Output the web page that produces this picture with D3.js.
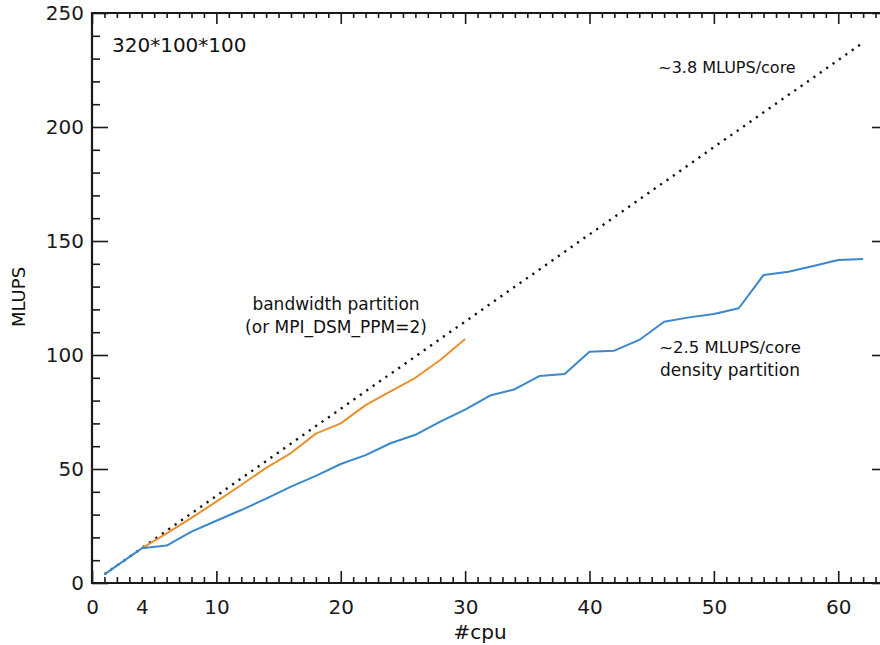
<!DOCTYPE html>
<html>
<head>
<meta charset="utf-8">
<script src="https://cdn.jsdelivr.net/npm/d3@7"></script>
<style>
  html, body { margin: 0; padding: 0; background: #fff; }
  svg { display: block; font-family: "DejaVu Sans", sans-serif; }
</style>
</head>
<body>
<svg id="chart" width="880" height="645"></svg>
<script>
// ---- data ----
const densityX = [1, 2, 4, 6, 8, 10, 12, 14, 16, 18, 20, 22, 24, 26, 28, 30, 32, 34, 36, 38, 40, 42, 44, 46, 48, 50, 52, 54, 56, 58, 60, 62];
const densityY = [3.8, 7.6, 15.2, 16.4, 22.5, 27.3, 32.0, 37.0, 42.3, 47.0, 52.2, 56.1, 61.3, 65.0, 70.8, 76.0, 82.2, 85.0, 90.8, 91.7, 101.4, 101.9, 106.6, 114.6, 116.5, 118.0, 120.5, 135.1, 136.5, 139.0, 141.7, 142.1];
const bandwidthX = [4, 6, 8, 10, 12, 14, 16, 18, 20, 22, 24, 26, 28, 30];
const bandwidthY = [15.2, 21.8, 28.6, 35.7, 43.0, 50.5, 57.0, 65.5, 70.0, 78.0, 84.0, 90.0, 97.8, 107.0];
const idealX = [1, 62];
const idealY = [3.8, 237];
const xTickLabels = [0, 4, 10, 20, 30, 40, 50, 60];
const xMajorTicks = [0, 10, 20, 30, 40, 50, 60];
const yTickLabels = [0, 50, 100, 150, 200, 250];
const xDomain = [0, 64];
const yDomain = [0, 250];

(function () {
// ---- layout ----
const svg = d3.select("#chart");
const mLeft = 92, mRight = 888, mTop = 13, mBottom = 583;
const x = d3.scaleLinear().domain(xDomain).range([mLeft, mRight]);
const y = d3.scaleLinear().domain(yDomain).range([mBottom, mTop]);
const axisColor = "#1a1a1a";

svg.append("rect").attr("width", 880).attr("height", 645).attr("fill", "#fff");

const xMinor = d3.range(xDomain[0], xDomain[1] + 1, 1).filter(v => !xMajorTicks.includes(v));
const yMinor = d3.range(0, 251, 10).filter(v => v % 50 !== 0);

function styleAxis(g) {
  g.select(".domain").remove();
  g.selectAll("line").attr("stroke", axisColor).attr("stroke-width", 1.6);
  g.selectAll("text").attr("fill", axisColor);
}

// bottom axis ticks (inward)
svg.append("g").attr("transform", `translate(0,${mBottom})`)
  .call(d3.axisTop(x).tickValues(xMajorTicks).tickSize(12).tickFormat("")).call(styleAxis);
svg.append("g").attr("transform", `translate(0,${mBottom})`)
  .call(d3.axisTop(x).tickValues(xMinor).tickSize(6).tickFormat("")).call(styleAxis);
// bottom labels
svg.append("g").attr("transform", `translate(0,${mBottom})`)
  .call(d3.axisBottom(x).tickValues(xTickLabels).tickSize(0).tickPadding(17).tickFormat(d3.format("d")))
  .call(styleAxis)
  .selectAll("text").attr("font-size", 20).attr("font-family", "DejaVu Sans, sans-serif");

// top axis ticks (inward)
svg.append("g").attr("transform", `translate(0,${mTop})`)
  .call(d3.axisBottom(x).tickValues(xMajorTicks).tickSize(11).tickFormat("")).call(styleAxis);
svg.append("g").attr("transform", `translate(0,${mTop})`)
  .call(d3.axisBottom(x).tickValues(xMinor).tickSize(5).tickFormat("")).call(styleAxis);

// left axis
svg.append("g").attr("transform", `translate(${mLeft},0)`)
  .call(d3.axisRight(y).tickValues(yTickLabels).tickSize(16).tickFormat("")).call(styleAxis);
svg.append("g").attr("transform", `translate(${mLeft},0)`)
  .call(d3.axisRight(y).tickValues(yMinor).tickSize(8).tickFormat("")).call(styleAxis);
svg.append("g").attr("transform", `translate(${mLeft},0)`)
  .call(d3.axisLeft(y).tickValues(yTickLabels).tickSize(0).tickPadding(8).tickFormat(d3.format("d")))
  .call(styleAxis)
  .selectAll("text").attr("font-size", 20).attr("font-family", "DejaVu Sans, sans-serif");

// right axis
svg.append("g").attr("transform", `translate(${mRight},0)`)
  .call(d3.axisLeft(y).tickValues(yTickLabels).tickSize(16).tickFormat("")).call(styleAxis);
svg.append("g").attr("transform", `translate(${mRight},0)`)
  .call(d3.axisLeft(y).tickValues(yMinor).tickSize(8).tickFormat("")).call(styleAxis);

// frame
svg.append("path")
  .attr("d", `M${mLeft},${mTop}V${mBottom}H${mRight}V${mTop}Z`)
  .attr("fill", "none").attr("stroke", axisColor).attr("stroke-width", 2.2);

// lines
const line = d3.line().x(d => x(d[0])).y(d => y(d[1]));
svg.append("path")
  .datum(d3.zip(idealX, idealY))
  .attr("d", line).attr("fill", "none")
  .attr("stroke", "#111").attr("stroke-width", 2.4)
  .attr("stroke-dasharray", "2.2 5.6");
svg.append("path")
  .datum(d3.zip(bandwidthX, bandwidthY))
  .attr("d", line).attr("fill", "none")
  .attr("stroke", "#e8912d").attr("stroke-width", 2).attr("stroke-linejoin", "round");
svg.append("path")
  .datum(d3.zip(densityX, densityY))
  .attr("d", line).attr("fill", "none")
  .attr("stroke", "#3a88cb").attr("stroke-width", 2).attr("stroke-linejoin", "round");

// annotations
function txt(s, px, py, size, anchor) {
  svg.append("text").attr("x", px).attr("y", py).attr("font-size", size)
    .attr("text-anchor", anchor || "start").attr("fill", "#111").text(s);
}
txt("320*100*100", 112, 52, 20);
txt("~3.8 MLUPS/core", 727, 73, 16, "middle");
txt("bandwidth partition", 336, 310, 17, "middle");
txt("(or MPI_DSM_PPM=2)", 336, 333, 17, "middle");
txt("~2.5 MLUPS/core", 730, 353, 16.5, "middle");
txt("density partition", 730, 376, 17, "middle");

// axis titles
svg.append("text").attr("x", 480).attr("y", 639).attr("text-anchor", "middle")
  .attr("font-size", 20).attr("fill", "#111").text("#cpu");
svg.append("text").attr("transform", "translate(25,297) rotate(-90)").attr("text-anchor", "middle")
  .attr("font-size", 18).attr("fill", "#111").text("MLUPS");
})();
</script>
</body>
</html>
